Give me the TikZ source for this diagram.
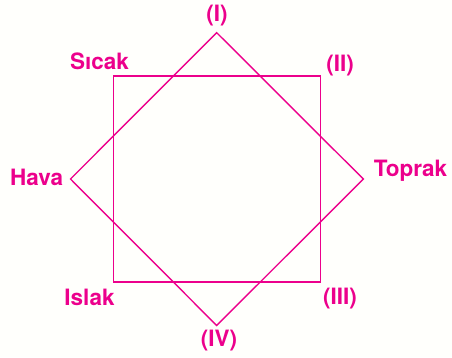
\documentclass[tikz,border=0pt]{standalone}
\usepackage{fontspec}
\setmainfont{TeX Gyre Heros}
\definecolor{mag}{RGB}{236,0,140}
\begin{document}
\begin{tikzpicture}[x=1pt,y=-1pt,
  lbl/.style={text=mag,font=\fontsize{22.5}{24}\selectfont\bfseries,inner sep=0pt,anchor=center},
  shp/.style={draw=mag,line width=1.4pt,line join=miter}]
\useasboundingbox (0,0) rectangle (452,357);
\fill[white!99!yellow] (0,0) rectangle (452,357);
% square
\coordinate (s1) at (113.5,76);
\coordinate (s2) at (320.5,76);
\coordinate (s3) at (320.5,282);
\coordinate (s4) at (113.5,282);
% diamond
\coordinate (d1) at (216.7,32.7);
\coordinate (d2) at (363.3,179);
\coordinate (d3) at (216.7,325.5);
\coordinate (d4) at (70.5,179);
\draw[shp] (s1) -- (s2) -- (s3) -- (s4) -- cycle;
\draw[shp] (d1) -- (d2) -- (d3) -- (d4) -- cycle;
% labels
\node[lbl] (l1) at (217,15.5) {(I)};
\node[lbl] (lsicak) at (99.5,61) {Sıcak};
\node[lbl] (l2) at (340,65.5) {(II)};
\node[lbl] (lhava) at (36.5,177) {Hava};
\node[lbl] (ltoprak) at (410.5,171) {Toprak};
\node[lbl] (lislak) at (89.5,297) {Islak};
\node[lbl] (l3) at (340,298.5) {(III)};
\node[lbl] (l4) at (219,340.5) {(IV)};
\end{tikzpicture}
\end{document}
